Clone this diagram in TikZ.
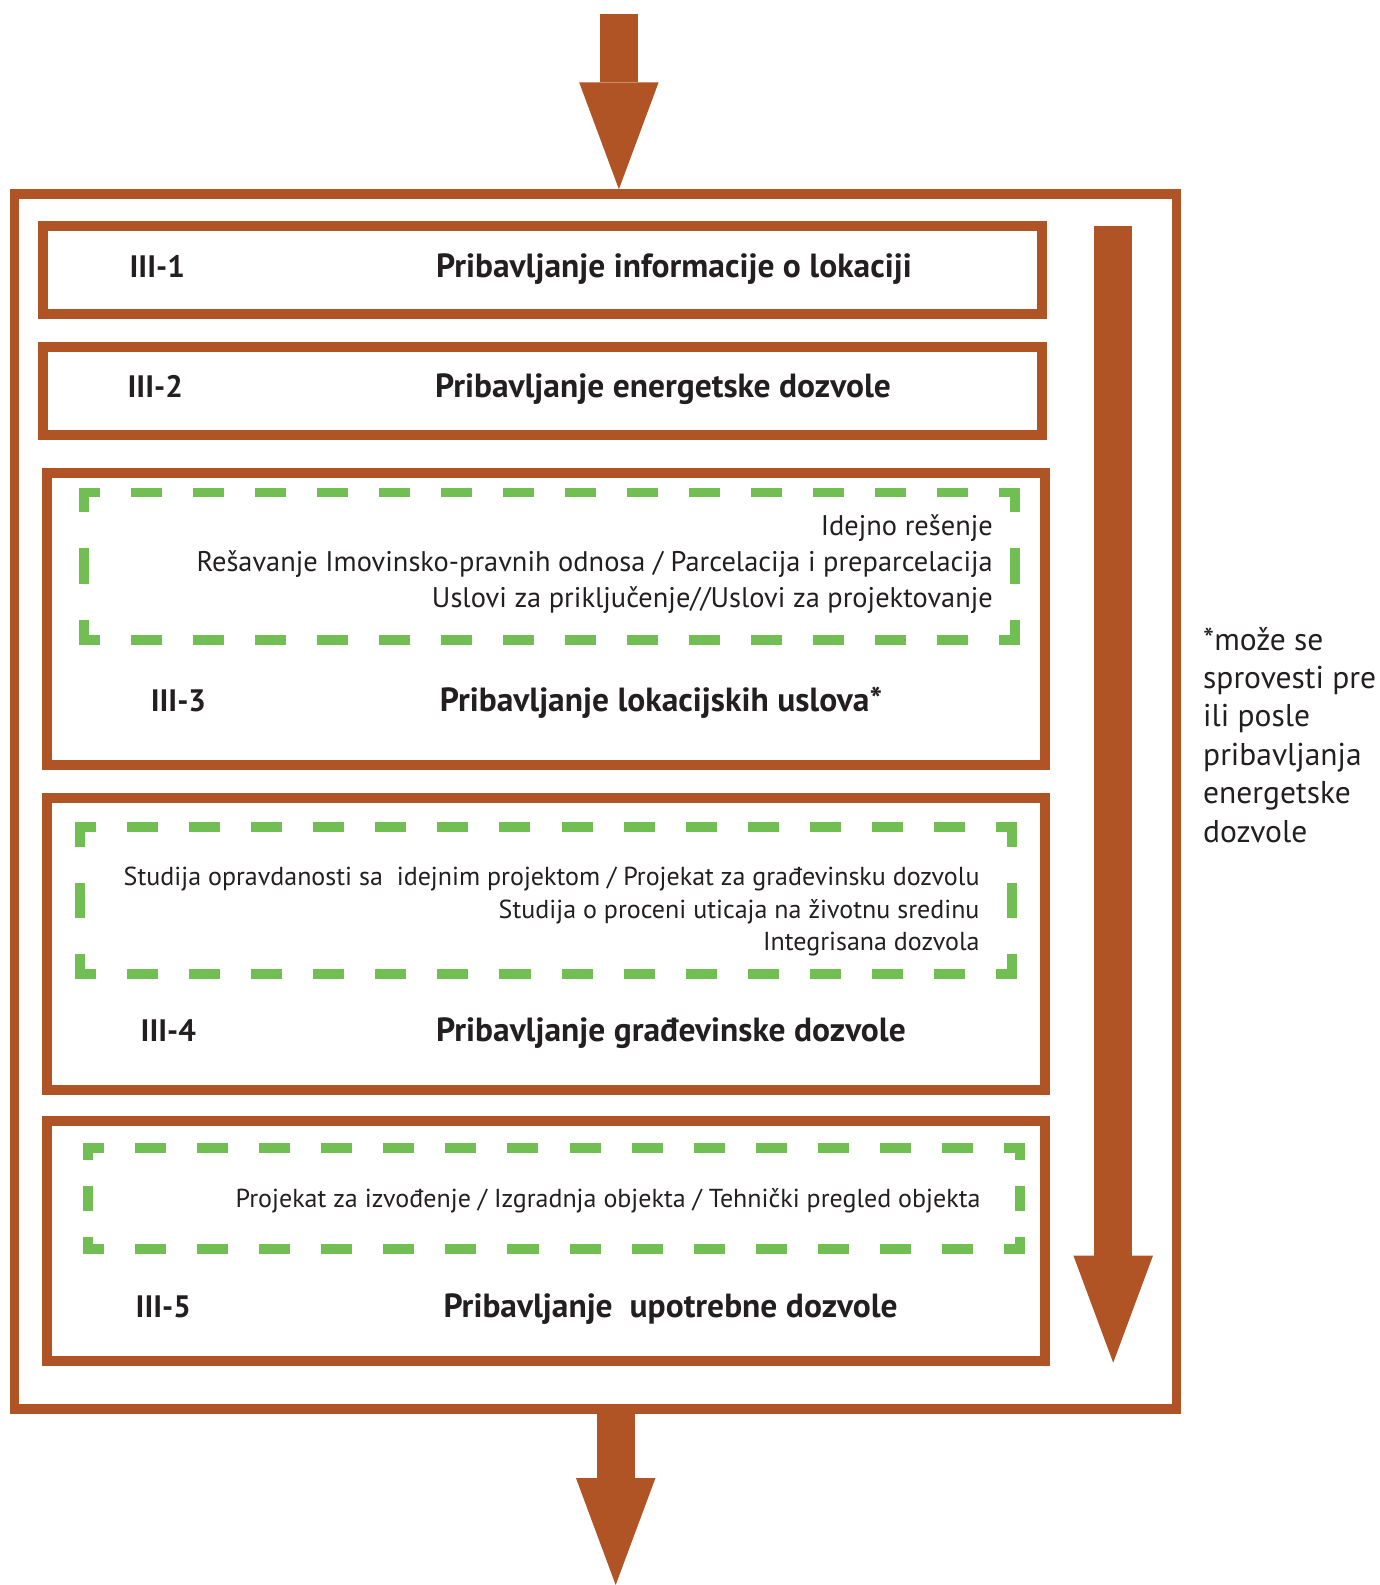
\documentclass[tikz,border=0pt]{standalone}
\usepackage{fontspec}
\setmainfont{PT Sans}
\usetikzlibrary{arrows.meta}

\definecolor{rust}{RGB}{176,84,37}
\definecolor{leaf}{RGB}{113,191,82}
\definecolor{ink}{RGB}{35,31,32}

\tikzset{
	framebox/.style={draw=rust, line width=9.5, inner sep=0},
	stagebox/.style={draw=rust, line width=10, inner sep=0},
	bigarrow/.style={draw=rust, line width=38.3, -{Triangle[width=79.5pt, length=107pt, line width=0pt]}},
	greenline/.style={draw=leaf, line width=9.5, shorten <=-4.75pt, shorten >=-4.75pt},
	stagelabel/.style={font=\fontsize{31}{36}\selectfont\bfseries, text=ink, anchor=mid west, inner sep=0},
	stagetitle/.style={font=\fontsize{33.5}{38}\selectfont\bfseries, text=ink, anchor=mid, inner sep=0},
	subtext/.style={font=\fontsize{28.4}{32}\selectfont, text=ink, anchor=mid east, inner sep=0},
	smalltext/.style={subtext, font=\fontsize{26}{30}\selectfont},
	notetext/.style={font=\fontsize{31.5}{36}\selectfont, text=ink, anchor=mid west, inner sep=0}
}

\begin{document}
\begin{tikzpicture}[x=1pt, y=-1pt]
	\useasboundingbox (0,0) rectangle (1380,1585);
	\def \gcorn{21}
	\def \gdash{31}
	\def \ggapo{31}
	% outer frame
	\node[framebox, minimum width=1161.8, minimum height=1215] (frame) at (595.4, 801.5) {};
	% stages
	\foreach \n/\xl/\yt/\xr/\yb in {1/43.3/225.5/1041.5/313.5, 2/43.3/346.8/1041.5/434.5, 3/47/472.9/1045/764.6, 4/47/797.9/1045/1090, 5/47/1120.7/1045/1361}{
		\node[stagebox, minimum width={\xr-\xl}, minimum height={\yb-\yt}] (stage\n) at ({(\xl+\xr)/2}, {(\yt+\yb)/2}) {};
	}
	% green dashed frames, dashes aligned to the corners
	\foreach \xa/\ya/\xb/\yb in {84/492.5/1015/640, 80/827/1012/974, 88/1148/1020/1249}{
		\foreach \sx/\sy/\ex/\ey in {\xa/\ya/\xb/\ya, \xb/\ya/\xb/\yb, \xb/\yb/\xa/\yb, \xa/\yb/\xa/\ya}{
			\pgfmathsetmacro\glen{veclen(\ex-\sx,\ey-\sy)+9.5}
			\pgfmathsetmacro\gnum{max(round((\glen-2*\gcorn-\ggapo)/(\gdash+\ggapo)),0)}
			\pgfmathsetmacro\gscale{\glen/(2*\gcorn+\gnum*\gdash+(\gnum+1)*\ggapo)}
			\pgfmathsetmacro\gon{\gdash*\gscale}
			\pgfmathsetmacro\goff{\ggapo*\gscale}
			\pgfmathsetmacro\gphase{(\gdash-\gcorn)*\gscale}
			\draw[greenline, dash pattern=on \gon pt off \goff pt, dash phase=\gphase pt] (\sx,\sy) -- (\ex,\ey);
		}
	}
	% stage numbers
	\foreach \n/\lx/\ly in {1/129.4/274.6, 2/127.4/394.6, 3/150.6/709.2, 4/140.5/1038.6, 5/135.5/1314.6}{
		\node[stagelabel] (label\n) at (\lx, \ly) {III-\n};
	}
	% stage titles
	\node[stagetitle] (title1) at (674, 274.6) {Pribavljanje informacije o lokaciji};
	\node[stagetitle] (title2) at (663, 394.6) {Pribavljanje energetske dozvole};
	\node[stagetitle] (title3) at (661, 709.2) {Pribavljanje lokacijskih uslova*};
	\node[stagetitle] (title4) at (671, 1038.6) {Pribavljanje građevinske dozvole};
	\node[stagetitle] (title5) at (670.6, 1314.6) {Pribavljanje \ upotrebne dozvole};
	% III-3 steps
	\node[subtext] (idejno) at (993, 533.3) {Idejno rešenje};
	\node[subtext] (imovina) at (993, 568.6) {Rešavanje Imovinsko-pravnih odnosa / Parcelacija i preparcelacija};
	\node[subtext] (uslovi) at (993, 605.1) {Uslovi za priključenje//Uslovi za projektovanje};
	% III-4 steps
	\node[smalltext] (studija) at (979.7, 883.1) {Studija opravdanosti sa \ idejnim projektom / Projekat za građevinsku dozvolu};
	\node[smalltext] (procena) at (979.7, 915.5) {Studija o proceni uticaja na životnu sredinu};
	\node[smalltext] (integrisana) at (979.7, 947.8) {Integrisana dozvola};
	% III-5 steps
	\node[smalltext] (izvodjenje) at (980.7, 1204.6) {Projekat za izvođenje / Izgradnja objekta / Tehnički pregled objekta};
	% side note
	\foreach \txt [count=\i] in {*može se, sprovesti pre, ili posle, pribavljanja, energetske, dozvole}{
		\node[notetext] (note\i) at (1203, {647.6+38.4*(\i-1)}) {\txt};
	}
	% arrows
	\coordinate (in) at (618.9, 14.3);
	\coordinate (out) at (615.7, 1585);
	\coordinate (flowtop) at (1113.2, 225.5);
	\coordinate (flowend) at (1113.2, 1362.7);
	\draw[bigarrow] (in) -- (in |- frame.north);
	\draw[bigarrow] (frame.south -| out) -- (out);
	\draw[bigarrow] (flowtop) -- (flowend);
\end{tikzpicture}
\end{document}
